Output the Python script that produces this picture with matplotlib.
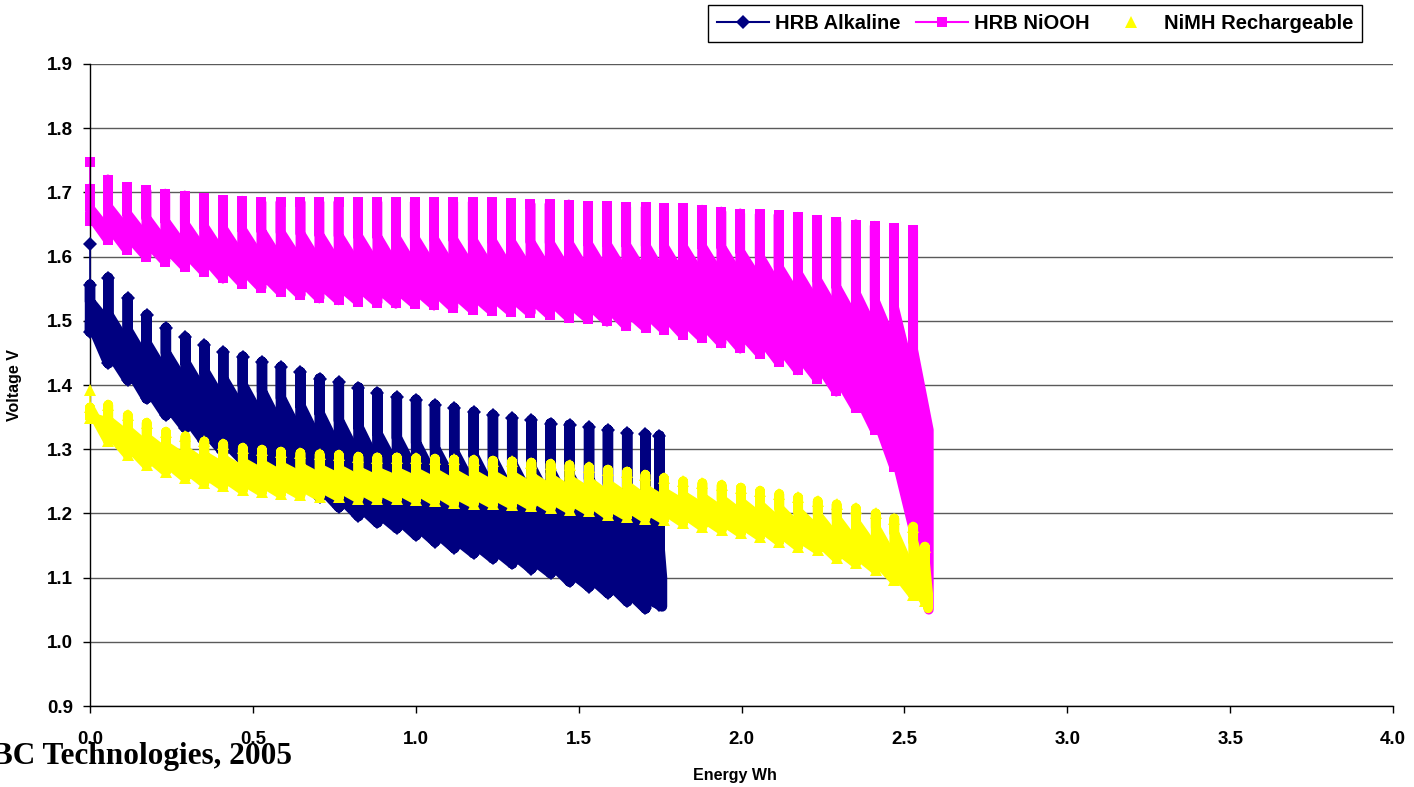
import numpy as np
import matplotlib
matplotlib.use('Agg')
from matplotlib import pyplot as plt
from matplotlib.patches import Polygon
from matplotlib.lines import Line2D

# ---------------- data ----------------
# each pulse: energy where the pulse starts, recovered peak, knee where the
# column meets the loaded band, upper band edge at next pulse, lower band
# start just after the pulse, and the lowest value reached just before the pulse

# HRB Alkaline
alk_e = [0.000, 0.056, 0.116, 0.174, 0.233, 0.293, 0.351, 0.409, 0.469, 0.528,
         0.586, 0.646, 0.705, 0.764, 0.824, 0.882, 0.942, 1.001, 1.059, 1.118,
         1.178, 1.237, 1.296, 1.355, 1.414, 1.472, 1.532, 1.590, 1.649, 1.705, 1.748]
alk_peak = [1.556, 1.567, 1.535, 1.509, 1.489, 1.474, 1.462, 1.451, 1.444, 1.436,
            1.428, 1.420, 1.410, 1.404, 1.396, 1.388, 1.381, 1.377, 1.369, 1.364,
            1.358, 1.353, 1.348, 1.345, 1.340, 1.338, 1.334, 1.330, 1.325, 1.323, 1.321]
alk_knee = [1.530, 1.510, 1.485, 1.465, 1.450, 1.435, 1.422, 1.410, 1.400, 1.390,
            1.380, 1.368, 1.356, 1.345, 1.335, 1.325, 1.318, 1.310, 1.302, 1.296,
            1.290, 1.284, 1.278, 1.272, 1.266, 1.260, 1.254, 1.247, 1.240, 1.232, 1.150]
alk_end = [1.495, 1.460, 1.435, 1.415, 1.400, 1.385, 1.372, 1.358, 1.345, 1.332,
           1.320, 1.307, 1.295, 1.285, 1.275, 1.268, 1.260, 1.252, 1.245, 1.238,
           1.232, 1.226, 1.220, 1.214, 1.208, 1.201, 1.194, 1.186, 1.178, 1.170, 1.100]
alk_lstart = [1.500, 1.455, 1.428, 1.398, 1.372, 1.352, 1.330, 1.314, 1.300, 1.287,
              1.272, 1.257, 1.242, 1.227, 1.213, 1.202, 1.193, 1.182, 1.172, 1.162,
              1.154, 1.146, 1.138, 1.130, 1.123, 1.110, 1.102, 1.092, 1.079, 1.068, 1.070]
alk_low = [1.483, 1.434, 1.408, 1.379, 1.353, 1.333, 1.312, 1.296, 1.283, 1.270,
           1.255, 1.240, 1.225, 1.210, 1.196, 1.186, 1.177, 1.166, 1.156, 1.146,
           1.138, 1.130, 1.122, 1.114, 1.107, 1.094, 1.086, 1.076, 1.063, 1.052, 1.058]
alk_first = 1.620
alk_last = (1.756, 1.055)

# HRB NiOOH
ni_e = [0.000, 0.055, 0.114, 0.173, 0.231, 0.291, 0.350, 0.408, 0.467, 0.526,
        0.585, 0.646, 0.704, 0.763, 0.823, 0.882, 0.939, 0.997, 1.056, 1.115,
        1.175, 1.234, 1.292, 1.352, 1.411, 1.470, 1.529, 1.587, 1.646, 1.706,
        1.762, 1.820, 1.879, 1.938, 1.996, 2.056, 2.114, 2.173, 2.232, 2.291,
        2.351, 2.409, 2.468, 2.527]
ni_peak = [1.706, 1.720, 1.708, 1.703, 1.698, 1.695, 1.691, 1.688, 1.687, 1.685,
           1.685, 1.685, 1.685, 1.685, 1.685, 1.685, 1.685, 1.685, 1.685, 1.685,
           1.685, 1.685, 1.683, 1.682, 1.682, 1.681, 1.679, 1.679, 1.677, 1.677,
           1.675, 1.675, 1.673, 1.670, 1.667, 1.666, 1.665, 1.662, 1.657, 1.654,
           1.650, 1.648, 1.644, 1.641]
ni_knee = [1.675, 1.678, 1.667, 1.660, 1.655, 1.651, 1.647, 1.644, 1.642, 1.640,
           1.638, 1.636, 1.634, 1.633, 1.632, 1.631, 1.630, 1.629, 1.628, 1.627,
           1.626, 1.625, 1.624, 1.623, 1.622, 1.621, 1.620, 1.619, 1.618, 1.617,
           1.616, 1.616, 1.616, 1.615, 1.608, 1.600, 1.584, 1.574, 1.564, 1.553,
           1.543, 1.532, 1.522, 1.455]
ni_end = [1.640, 1.640, 1.628, 1.620, 1.613, 1.607, 1.602, 1.598, 1.595, 1.592,
          1.590, 1.588, 1.586, 1.584, 1.583, 1.582, 1.581, 1.580, 1.579, 1.578,
          1.577, 1.576, 1.575, 1.574, 1.573, 1.572, 1.571, 1.570, 1.569, 1.568,
          1.567, 1.567, 1.567, 1.567, 1.560, 1.550, 1.535, 1.524, 1.512, 1.498,
          1.482, 1.460, 1.400, 1.330]
ni_lstart = [1.665, 1.650, 1.634, 1.624, 1.616, 1.608, 1.600, 1.590, 1.582, 1.575,
             1.569, 1.564, 1.559, 1.556, 1.554, 1.552, 1.551, 1.550, 1.548, 1.544,
             1.541, 1.539, 1.538, 1.536, 1.533, 1.529, 1.527, 1.523, 1.516, 1.513,
             1.510, 1.502, 1.497, 1.491, 1.483, 1.475, 1.462, 1.449, 1.436, 1.416,
             1.390, 1.356, 1.300, 1.200]
ni_low = [1.655, 1.626, 1.610, 1.600, 1.592, 1.584, 1.576, 1.566, 1.558, 1.551,
          1.545, 1.540, 1.535, 1.532, 1.530, 1.528, 1.527, 1.526, 1.524, 1.520,
          1.517, 1.515, 1.514, 1.512, 1.509, 1.505, 1.503, 1.499, 1.492, 1.489,
          1.486, 1.478, 1.473, 1.465, 1.457, 1.449, 1.436, 1.423, 1.410, 1.390,
          1.364, 1.330, 1.273, 1.177]
ni_first = 1.748
ni_last = (2.575, 1.050)

# NiMH Rechargeable
mh_e = [0.000, 0.056, 0.116, 0.174, 0.233, 0.293, 0.351, 0.409, 0.469, 0.528,
        0.586, 0.646, 0.705, 0.764, 0.824, 0.882, 0.942, 1.001, 1.059, 1.118,
        1.178, 1.237, 1.296, 1.355, 1.414, 1.472, 1.532, 1.590, 1.649, 1.705,
        1.762, 1.821, 1.880, 1.939, 1.998, 2.057, 2.116, 2.174, 2.234, 2.292,
        2.351, 2.412, 2.469, 2.527, 2.563]
mh_peak = [1.365, 1.369, 1.353, 1.341, 1.327, 1.320, 1.312, 1.308, 1.302, 1.299,
           1.296, 1.294, 1.292, 1.291, 1.288, 1.287, 1.287, 1.286, 1.285, 1.284,
           1.283, 1.282, 1.281, 1.279, 1.277, 1.275, 1.272, 1.268, 1.265, 1.260,
           1.255, 1.250, 1.247, 1.244, 1.240, 1.235, 1.230, 1.225, 1.219, 1.214,
           1.208, 1.200, 1.192, 1.179, 1.148]
mh_knee = [1.350, 1.345, 1.330, 1.318, 1.305, 1.298, 1.290, 1.285, 1.280, 1.277,
           1.274, 1.272, 1.270, 1.269, 1.266, 1.265, 1.265, 1.264, 1.263, 1.262,
           1.261, 1.260, 1.259, 1.257, 1.255, 1.253, 1.250, 1.246, 1.243, 1.238,
           1.233, 1.228, 1.225, 1.222, 1.218, 1.213, 1.208, 1.203, 1.197, 1.192,
           1.186, 1.178, 1.170, 1.157, 1.126]
mh_end = [1.342, 1.321, 1.305, 1.295, 1.285, 1.277, 1.272, 1.266, 1.263, 1.260,
          1.258, 1.256, 1.255, 1.253, 1.252, 1.252, 1.251, 1.249, 1.246, 1.245,
          1.244, 1.243, 1.241, 1.238, 1.236, 1.233, 1.227, 1.225, 1.222, 1.220,
          1.215, 1.209, 1.204, 1.199, 1.194, 1.186, 1.178, 1.173, 1.160, 1.152,
          1.142, 1.126, 1.103, 1.093, 1.075]
mh_lstart = [1.364, 1.327, 1.306, 1.290, 1.280, 1.270, 1.262, 1.257, 1.251, 1.248,
             1.245, 1.243, 1.241, 1.240, 1.238, 1.237, 1.237, 1.236, 1.234, 1.231,
             1.230, 1.229, 1.228, 1.226, 1.223, 1.221, 1.218, 1.212, 1.210, 1.207,
             1.205, 1.200, 1.194, 1.189, 1.184, 1.179, 1.171, 1.163, 1.158, 1.145,
             1.137, 1.127, 1.111, 1.088, 1.078]
mh_low = [1.349, 1.312, 1.291, 1.275, 1.265, 1.255, 1.247, 1.242, 1.236, 1.233,
          1.230, 1.228, 1.226, 1.225, 1.223, 1.222, 1.222, 1.221, 1.219, 1.216,
          1.215, 1.214, 1.213, 1.211, 1.208, 1.206, 1.203, 1.197, 1.195, 1.192,
          1.190, 1.185, 1.179, 1.174, 1.169, 1.164, 1.156, 1.148, 1.143, 1.130,
          1.122, 1.112, 1.096, 1.073, 1.063]
mh_first = 1.392
mh_last = (2.573, 1.052)

x_ticks = [0.0, 0.5, 1.0, 1.5, 2.0, 2.5, 3.0, 3.5, 4.0]
y_ticks = [0.9, 1.0, 1.1, 1.2, 1.3, 1.4, 1.5, 1.6, 1.7, 1.8, 1.9]

NAVY = '#000080'
MAGENTA = '#FF00FF'
YELLOW = '#FFFF00'

########################################################################

W, H = 1414, 787
fig = plt.figure(figsize=(W / 100, H / 100), dpi=100)
ax = fig.add_axes([90 / W, 1 - 706 / H, (1393 - 90) / W, (706 - 64) / H])


def draw_pulses(e, peak, knee, end, lstart, low, first, last, color, marker, ms, lw, z):
    xs = list(e) + [last[0]]
    lows = list(low) + [last[1]]
    for k in range(len(e)):
        verts = [(xs[k], peak[k]), (xs[k], low[k]), (xs[k], lstart[k]),
                 (xs[k + 1], lows[k + 1]), (xs[k + 1], end[k]), (xs[k], knee[k])]
        ax.add_patch(Polygon(verts, closed=True, fc=color, ec=color, lw=lw,
                             joinstyle='round', zorder=z, clip_on=False))
    ax.plot(e, peak, ls='none', marker=marker, ms=ms, mew=0, color=color, zorder=z, clip_on=False)
    ax.plot(e, low, ls='none', marker=marker, ms=ms, mew=0, color=color, zorder=z, clip_on=False)
    ax.plot([0, 0], [first, peak[0]], color=color, lw=1.2, zorder=z, clip_on=False)
    ax.plot([0], [first], ls='none', marker=marker, ms=ms, mew=0, color=color, zorder=z, clip_on=False)


draw_pulses(ni_e, ni_peak, ni_knee, ni_end, ni_lstart, ni_low, ni_first, ni_last,
            MAGENTA, 's', 7, 7, 2)
draw_pulses(alk_e, alk_peak, alk_knee, alk_end, alk_lstart, alk_low, alk_first, alk_last,
            NAVY, 'D', 7.5, 7.5, 3)
draw_pulses(mh_e, mh_peak, mh_knee, mh_end, mh_lstart, mh_low, mh_first, mh_last,
            YELLOW, '^', 9, 7, 4)

ax.set_xlim(0, 4)
ax.set_ylim(0.9, 1.9)
ax.set_xticks(x_ticks)
ax.set_xticklabels(['%.1f' % v for v in x_ticks])
ax.set_yticks(y_ticks)
ax.set_yticklabels(['%.1f' % v for v in y_ticks])
for lab in ax.get_xticklabels() + ax.get_yticklabels():
    lab.set_fontfamily('Liberation Sans')
    lab.set_fontweight('bold')
    lab.set_fontsize(13.5)
ax.tick_params(axis='x', direction='out', length=5, width=1, pad=13)
ax.tick_params(axis='y', direction='out', length=5, width=1, pad=7)

ax.yaxis.grid(True, color='#5a5a5a', lw=1.0, zorder=0)
ax.set_axisbelow(True)
for s in ['top', 'right']:
    ax.spines[s].set_visible(False)
ax.spines['left'].set_linewidth(1.0)
ax.spines['bottom'].set_linewidth(1.0)

ax.set_xlabel('Energy Wh', fontfamily='Liberation Sans', fontweight='bold', fontsize=11.5)
ax.xaxis.set_label_coords(0.495, -0.0966)
ax.set_ylabel('Voltage V', fontfamily='Liberation Sans', fontweight='bold', fontsize=11.5)
ax.yaxis.set_label_coords(-0.052, 0.5)

fig.text(-8 / W, 1 - 764 / H, 'BC Technologies, 2005', fontfamily='Liberation Serif',
         fontweight='bold', fontsize=22.5, ha='left', va='baseline')

handles = [Line2D([], [], color=NAVY, marker='D', ms=7.5, mew=0, lw=1.5),
           Line2D([], [], color=MAGENTA, marker='s', ms=7, mew=0, lw=1.5),
           Line2D([], [], color=YELLOW, marker='^', ms=9, mew=0, ls='none')]
leg = fig.legend(handles, ['HRB Alkaline', 'HRB NiOOH', 'NiMH Rechargeable'],
                 loc='upper right', bbox_to_anchor=(1362 / W, 1 - 5 / H), ncol=3,
                 frameon=True, fancybox=False, edgecolor='black', framealpha=1,
                 borderpad=0.45, handlelength=2.6, handletextpad=0.3, columnspacing=0.75,
                 borderaxespad=0,
                 prop={'family': 'Liberation Sans', 'weight': 'bold', 'size': 14.5})
leg.get_frame().set_linewidth(1.0)

fig.savefig('out.png', dpi=100)
